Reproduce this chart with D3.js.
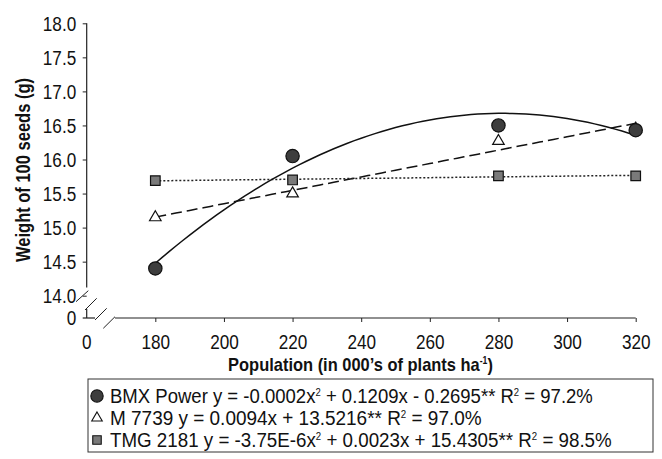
<!DOCTYPE html>
<html><head><meta charset="utf-8">
<script src="https://cdn.jsdelivr.net/npm/d3@7"></script>
<style>
body{margin:0;background:#fff}
text{font-family:"Liberation Sans",Arial,sans-serif;fill:#111}
</style>
</head><body>
<svg id="c" width="662" height="459"></svg>
<script>
// ---- data ----
const populations = [180, 220, 280, 320];
const bmxPower = [14.40, 16.05, 16.50, 16.43];
const m7739 = [15.15, 15.50, 16.27, 16.45];
const tmg2181 = [15.69, 15.70, 15.76, 15.76];
const xTicks = [180, 200, 220, 240, 260, 280, 300, 320];
const yTicks = [14.0, 14.5, 15.0, 15.5, 16.0, 16.5, 17.0, 17.5, 18.0];
const seriesNames = ["BMX Power", "M 7739", "TMG 2181"];
const legendEquations = [
  "BMX Power y = -0.0002x^2 + 0.1209x - 0.2695** R^2 = 97.2%",
  "M 7739 y = 0.0094x + 13.5216** R^2 = 97.0%",
  "TMG 2181 y = -3.75E-6x^2 + 0.0023x + 15.4305** R^2 = 98.5%"
];
const xTitle = "Population (in 000\u2019s of plants ha^-1)";
const yTitle = "Weight of 100 seeds (g)";

// ---- layout ----
const svg = d3.select("#c");
const x = d3.scaleLinear().domain([160, 320]).range([86.7, 635.7]);
const y = d3.scaleLinear().domain([14, 18]).range([295.7, 23.3]);
const axisY = 318;
const axisX = 86.7;
const tickFont = 19.5;
const condense = 0.88;

function polyFit(xs, ys, deg) {
  const n = deg + 1;
  const A = Array.from({length: n}, () => new Array(n + 1).fill(0));
  for (let i = 0; i < xs.length; i++) {
    const u = (xs[i] - 250) / 10;
    for (let r = 0; r < n; r++) {
      for (let c = 0; c < n; c++) A[r][c] += Math.pow(u, r + c);
      A[r][n] += ys[i] * Math.pow(u, r);
    }
  }
  for (let i = 0; i < n; i++) {
    let p = i;
    for (let k = i + 1; k < n; k++) if (Math.abs(A[k][i]) > Math.abs(A[p][i])) p = k;
    [A[i], A[p]] = [A[p], A[i]];
    for (let k = i + 1; k < n; k++) {
      const f = A[k][i] / A[i][i];
      for (let j = i; j <= n; j++) A[k][j] -= f * A[i][j];
    }
  }
  const c = new Array(n).fill(0);
  for (let i = n - 1; i >= 0; i--) {
    let s = A[i][n];
    for (let j = i + 1; j < n; j++) s -= A[i][j] * c[j];
    c[i] = s / A[i][i];
  }
  return xv => { const u = (xv - 250) / 10; return c.reduce((a, ci, i) => a + ci * Math.pow(u, i), 0); };
}

function richText(sel, str, supSize, lift) {
  const parts = str.split(/\^(-?\d)/);
  let pendingDy = 0;
  parts.forEach((p, i) => {
    if (!p) return;
    let ts;
    if (i % 2 === 1) {
      ts = sel.append("tspan").attr("font-size", supSize).attr("dy", pendingDy - lift).text(p);
      pendingDy = lift;
    } else {
      ts = sel.append("tspan").text(p);
      if (pendingDy) ts.attr("dy", pendingDy);
      pendingDy = 0;
    }
  });
}

function label(parent, px, py, anchor, size, weight, str, opts = {}) {
  const g = parent.append("g").attr("transform", `translate(${px},${py})${opts.rotate ? " rotate(" + opts.rotate + ")" : ""}`);
  const inner = g.append("g");
  const t = inner.append("text").attr("text-anchor", anchor).attr("font-size", size).attr("font-weight", weight);
  richText(t, str, opts.sup || size * 0.55, opts.lift || size * 0.38);
  let sx = condense;
  if (opts.width) sx = opts.width / t.node().getBBox().width;
  inner.attr("transform", `scale(${sx},1)`);
  return t;
}

// ---- axes ----
const yAxis = d3.axisLeft(y).tickValues(yTicks).tickSize(4);
const gy = svg.append("g").attr("transform", `translate(${axisX},0)`).call(yAxis);
gy.select(".domain").remove();
gy.selectAll("line").attr("stroke", "#222");
gy.selectAll(".tick text").each(function(d) {
  const tick = d3.select(this.parentNode);
  d3.select(this).remove();
  label(tick, -10.5, tickFont * 0.36, "end", tickFont, "normal", d3.format(".1f")(d));
});

const xAxis = d3.axisBottom(x).tickValues(xTicks).tickSize(4);
const gx = svg.append("g").attr("transform", `translate(0,${axisY})`).call(xAxis);
gx.select(".domain").remove();
gx.selectAll("line").attr("stroke", "#222");
gx.selectAll(".tick text").each(function(d) {
  const tick = d3.select(this.parentNode);
  d3.select(this).remove();
  label(tick, 0, 31, "middle", tickFont, "normal", String(d));
});

// axis lines with breaks
const ax = svg.append("g").attr("stroke", "#222").attr("stroke-width", 1.2).attr("fill", "none");
ax.append("line").attr("x1", axisX).attr("x2", axisX).attr("y1", y(18)).attr("y2", 287.5);
ax.append("line").attr("x1", axisX).attr("x2", axisX).attr("y1", 309).attr("y2", axisY);
ax.append("line").attr("x1", axisX - 4).attr("x2", 95).attr("y1", axisY).attr("y2", axisY);
ax.append("line").attr("x1", 115).attr("x2", x(320)).attr("y1", axisY).attr("y2", axisY);
[[76, 301.7, 88.3, 290.7], [85, 310, 96.7, 298.3], [95, 320, 106.7, 308.3], [103.3, 328.3, 115, 316.7]]
  .forEach(s => ax.append("line").attr("x1", s[0]).attr("y1", s[1]).attr("x2", s[2]).attr("y2", s[3]).attr("stroke-width", 1));

// broken-axis zero labels
label(svg, axisX - 10.5, axisY + tickFont * 0.36, "end", tickFont, "normal", "0");
label(svg, axisX, axisY + 31, "middle", tickFont, "normal", "0");

// ---- titles ----
label(svg, 360.5, 370.5, "middle", 19, "bold", xTitle, {width: 265, sup: 10, lift: 7});
label(svg, 30, 170, "middle", 20, "bold", yTitle, {rotate: -90, width: 184});

// ---- trend lines ----
const samples = d3.range(180, 320.01, 2);
const fitB = polyFit(populations, bmxPower, 2);
const fitM = polyFit(populations, m7739, 1);
const fitT = polyFit(populations, tmg2181, 1);
const line = d3.line().x(d => x(d[0])).y(d => y(d[1]));
svg.append("path").attr("d", line(samples.map(v => [v, fitM(v)])))
  .attr("fill", "none").attr("stroke", "#111").attr("stroke-width", 1.5).attr("stroke-dasharray", "11,5");
svg.append("path").attr("d", line(samples.map(v => [v, fitT(v)])))
  .attr("fill", "none").attr("stroke", "#222").attr("stroke-width", 1.5).attr("stroke-dasharray", "2,2");
svg.append("path").attr("d", line(samples.map(v => [v, fitB(v)])))
  .attr("fill", "none").attr("stroke", "#111").attr("stroke-width", 1.5);

// ---- markers ----
const tri = d3.symbol().type(d3.symbolTriangle).size(58);
const sq = d3.symbol().type(d3.symbolSquare).size(92);
const circ = d3.symbol().type(d3.symbolCircle).size(140);
function drawMarkers(vals, sym, fill) {
  svg.append("g").selectAll("path").data(populations.map((p, i) => [p, vals[i]])).join("path")
    .attr("transform", d => `translate(${x(d[0])},${y(d[1])})`)
    .attr("d", sym).attr("fill", fill).attr("stroke", "#111").attr("stroke-width", 1.2);
}
drawMarkers(m7739, tri, "#fff");
drawMarkers(tmg2181, sq, "#7a7a7a");
drawMarkers(bmxPower, circ, "#3d3d3d");

// ---- legend ----
const lg = svg.append("g");
lg.append("rect").attr("x", 88).attr("y", 379).attr("width", 565).attr("height", 73)
  .attr("fill", "#fff").attr("stroke", "#333").attr("stroke-width", 1);
const rowBase = [403, 425, 447];
const rowWidth = [483, 372, 502];
const legSyms = [[d3.symbol().type(d3.symbolCircle).size(120), "#3d3d3d"], [d3.symbol().type(d3.symbolTriangle).size(48), "#fff"], [d3.symbol().type(d3.symbolSquare).size(72), "#7a7a7a"]];
legendEquations.forEach((eq, i) => {
  lg.append("path").attr("transform", `translate(97,${rowBase[i] - 7})`)
    .attr("d", legSyms[i][0]).attr("fill", legSyms[i][1]).attr("stroke", "#111").attr("stroke-width", 1.1);
  label(lg, 110, rowBase[i], "start", 19.5, "normal", eq, {width: rowWidth[i], sup: 10, lift: 7});
});
</script>
</body></html>
